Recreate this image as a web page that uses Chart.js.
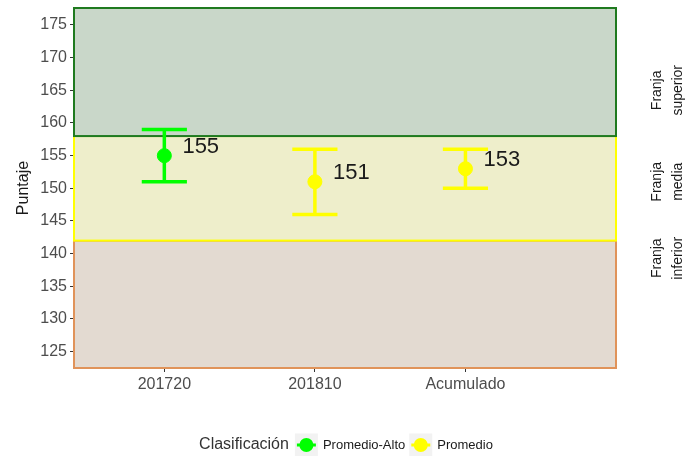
<!DOCTYPE html>
<html>
<head>
<meta charset="utf-8">
<script src="https://cdn.jsdelivr.net/npm/chart.js@4.4.0/dist/chart.umd.min.js"></script>
<style>
  html, body { margin: 0; padding: 0; background: #fff; }
  #wrap { width: 686px; height: 456px; }
</style>
</head>
<body>
<div id="wrap"><canvas id="chart" width="686" height="456"></canvas></div>
<script>
// categories on the x axis and where they sit on the linear scale
var CATEGORIES = ['201720', '201810', 'Acumulado'];
var POSITIONS = [1, 2, 3];

// score, interval and class per category
var PUNTAJE = [155, 151, 153];
var LOWER = [151, 146, 150];
var UPPER = [159, 156, 156];
var CLASIF = ['Promedio-Alto', 'Promedio', 'Promedio'];

var Y_TICKS = [125, 130, 135, 140, 145, 150, 155, 160, 165, 170, 175];

// bands (franjas)
var BAND_NAMES = [['Franja', 'inferior'], ['Franja', 'media'], ['Franja', 'superior']];
var BAND_LOW = [122.5, 142, 158];
var BAND_HIGH = [142, 158, 177.6];
var BAND_LABEL_AT = [139.3, 151, 165];

var LEGEND_TITLE = 'Clasificación';
var LEGEND_LABELS = ['Promedio-Alto', 'Promedio'];

var CLASS_COLORS = { 'Promedio-Alto': '#00ff00', 'Promedio': '#ffff00' };
var BAND_FILL = ['#e3dad1', '#eeeecb', '#c9d7c9'];
var BAND_STROKE = ['#e0935a', '#ffff00', '#1f7a1f'];

var FONT = '"Liberation Sans", Arial, sans-serif';
var X_MIN = 0.4, X_MAX = 4.0;

var pointColors = CLASIF.map(function (c) { return CLASS_COLORS[c]; });

/** Background bands + error bars, drawn under the points. */
var bandsPlugin = {
  id: 'bands',
  beforeDatasetsDraw: function (chart) {
    var ctx = chart.ctx, xs = chart.scales.x, ys = chart.scales.y;
    var x0 = xs.getPixelForValue(X_MIN), x1 = xs.getPixelForValue(X_MAX);
    ctx.save();
    BAND_LOW.forEach(function (lo, i) {
      var yTop = ys.getPixelForValue(BAND_HIGH[i]);
      var yBot = ys.getPixelForValue(lo);
      ctx.fillStyle = BAND_FILL[i];
      ctx.fillRect(x0, yTop, x1 - x0, yBot - yTop);
      ctx.strokeStyle = BAND_STROKE[i];
      ctx.lineWidth = 2;
      ctx.strokeRect(x0, yTop, x1 - x0, yBot - yTop);
    });

    // error bars
    ctx.lineWidth = 3.5;
    ctx.lineCap = 'butt';
    POSITIONS.forEach(function (p, i) {
      var xc = xs.getPixelForValue(p);
      var xl = xs.getPixelForValue(p - 0.15), xr = xs.getPixelForValue(p + 0.15);
      var yl = ys.getPixelForValue(LOWER[i]), yu = ys.getPixelForValue(UPPER[i]);
      ctx.strokeStyle = pointColors[i];
      ctx.beginPath();
      ctx.moveTo(xc, yl); ctx.lineTo(xc, yu);
      ctx.moveTo(xl, yl); ctx.lineTo(xr, yl);
      ctx.moveTo(xl, yu); ctx.lineTo(xr, yu);
      ctx.stroke();
    });
    ctx.restore();
  },
  afterDatasetsDraw: function (chart) {
    var ctx = chart.ctx, xs = chart.scales.x, ys = chart.scales.y;
    ctx.save();
    // value labels next to the points
    ctx.fillStyle = '#1a1a1a';
    ctx.font = '22px ' + FONT;
    ctx.textAlign = 'left';
    ctx.textBaseline = 'middle';
    POSITIONS.forEach(function (p, i) {
      ctx.fillText(String(PUNTAJE[i]), xs.getPixelForValue(p + 0.12), ys.getPixelForValue(PUNTAJE[i] + 1.4));
    });

    // band names on the right
    ctx.fillStyle = '#1a1a1a';
    ctx.font = '14px ' + FONT;
    ctx.textAlign = 'center';
    BAND_NAMES.forEach(function (lines, i) {
      var y = ys.getPixelForValue(BAND_LABEL_AT[i]);
      lines.forEach(function (t, k) {
        ctx.save();
        ctx.translate(657 + k * 21, y);
        ctx.rotate(-Math.PI / 2);
        ctx.fillText(t, 0, 0);
        ctx.restore();
      });
    });

    // legend at the bottom
    var ly = 445;
    ctx.textAlign = 'left';
    ctx.textBaseline = 'middle';
    ctx.font = '16px ' + FONT;
    var titleW = ctx.measureText(LEGEND_TITLE).width;
    ctx.font = '13px ' + FONT;
    var keyW = 23, gap = 5, itemGap = 4;
    var total = titleW + 6;
    LEGEND_LABELS.forEach(function (l) { total += keyW + gap + ctx.measureText(l).width + itemGap; });
    var x = 348 - total / 2;
    ctx.font = '16px ' + FONT;
    ctx.fillStyle = '#333';
    ctx.fillText(LEGEND_TITLE, x, ly);
    x += titleW + 6;
    ctx.font = '13px ' + FONT;
    LEGEND_LABELS.forEach(function (l) {
      var col = CLASS_COLORS[l];
      ctx.fillStyle = '#f2f2f2';
      ctx.fillRect(x, ly - 11.5, keyW, 23);
      ctx.strokeStyle = col;
      ctx.lineWidth = 3;
      ctx.beginPath();
      ctx.moveTo(x + 2, ly); ctx.lineTo(x + keyW - 2, ly);
      ctx.stroke();
      ctx.fillStyle = col;
      ctx.beginPath();
      ctx.arc(x + keyW / 2, ly, 7, 0, Math.PI * 2);
      ctx.fill();
      x += keyW + gap;
      ctx.fillStyle = '#1a1a1a';
      ctx.fillText(l, x, ly);
      x += ctx.measureText(l).width + itemGap;
    });
    ctx.restore();
  }
};

new Chart(document.getElementById('chart').getContext('2d'), {
  type: 'scatter',
  data: {
    datasets: [{
      label: 'Puntaje',
      data: POSITIONS.map(function (p, i) { return { x: p, y: PUNTAJE[i] }; }),
      pointBackgroundColor: pointColors,
      pointBorderColor: pointColors,
      pointRadius: 7,
      pointHoverRadius: 7
    }]
  },
  options: {
    responsive: false,
    animation: false,
    devicePixelRatio: 1,
    layout: { padding: { top: 8, right: 70, bottom: 58, left: 0 } },
    plugins: { legend: { display: false }, tooltip: { enabled: false } },
    scales: {
      x: {
        type: 'linear',
        min: X_MIN,
        max: X_MAX,
        afterBuildTicks: function (s) { s.ticks = POSITIONS.map(function (v) { return { value: v }; }); },
        afterFit: function (s) { s.height = 30; s.paddingLeft = 0; s.paddingRight = 0; },
        ticks: {
          autoSkip: false,
          maxRotation: 0,
          padding: 3,
          color: '#4d4d4d',
          font: { family: FONT, size: 16 },
          callback: function (v) { return CATEGORIES[POSITIONS.indexOf(v)]; }
        },
        grid: { display: true, drawOnChartArea: false, drawTicks: true, tickLength: 4, color: '#333', lineWidth: 1 },
        border: { display: false }
      },
      y: {
        min: 122.5,
        max: 177.6,
        afterBuildTicks: function (s) { s.ticks = Y_TICKS.map(function (v) { return { value: v }; }); },
        afterFit: function (s) { s.width = 74; s.paddingTop = 0; s.paddingBottom = 0; },
        ticks: {
          padding: 3,
          color: '#4d4d4d',
          font: { family: FONT, size: 16 }
        },
        title: {
          display: true,
          text: 'Puntaje',
          color: '#1a1a1a',
          font: { family: FONT, size: 16 },
          padding: { top: 14, bottom: 0 }
        },
        grid: { display: true, drawOnChartArea: false, drawTicks: true, tickLength: 4, color: '#333', lineWidth: 1 },
        border: { display: false }
      }
    }
  },
  plugins: [bandsPlugin]
});
</script>
</body>
</html>
